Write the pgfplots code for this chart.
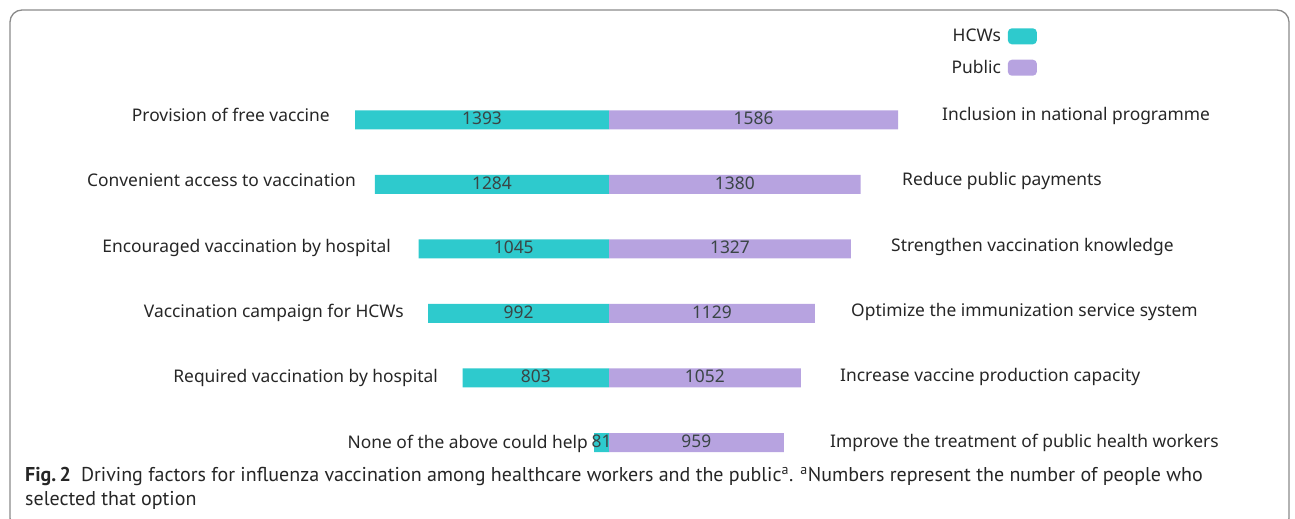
\documentclass[border=0pt]{standalone}
\usepackage{pgfplots}
\pgfplotsset{compat=1.18}
\usepackage{pgfplotstable}
\usepackage{fontspec}
\setmainfont{Noto Sans}
\newfontfamily\capfont{PT Sans}
\definecolor{hcw}{HTML}{2ECACD}
\definecolor{pub}{HTML}{B7A3E0}
\definecolor{txt}{HTML}{262626}
\definecolor{num}{HTML}{3A4545}
\definecolor{frame}{HTML}{8A8A8A}

% h = HCWs, p = public
\pgfplotstableread{
h p
1393 1586
1284 1380
1045 1327
992 1129
803 1052
81 959
}\counts

\newcommand{\chartfont}{\fontsize{17.4}{21}\selectfont}

\begin{document}
\begin{tikzpicture}
\useasboundingbox (0,0) rectangle (1295pt,519pt);
\begin{scope}[x=1pt,y=-1pt,yshift=519pt]
  \draw[frame, line width=1.3pt, rounded corners=12pt] (10,10) rectangle (1289,530);
\end{scope}

\begin{axis}[
    anchor=origin, at={(609pt,399pt)},
    x=0.1823pt, y=64.5pt,
    xmin=-3340, xmax=3763,
    ymin=-6.2, ymax=1.86,
    hide axis, clip=false,
    xbar, bar width=19pt, bar shift=0pt,
    /pgf/number format/.cd, 1000 sep={}, assume math mode=true, /pgfplots/.cd,
    point meta=explicit,
    nodes near coords,
    nodes near coords style={font=\chartfont, text=num, anchor=center, inner sep=0pt, yshift=1.5pt},
    legend plot pos=right,
    legend image code/.code={\fill[#1, rounded corners=4pt] (0pt,-8pt) rectangle (29pt,8pt);},
    legend style={draw=none, fill=none, font=\chartfont, text=txt,
        at={(0.8008,0.948)}, anchor=north east, row sep=13pt,
        inner sep=0pt, nodes={inner sep=2pt},
        /tikz/every odd column/.append style={column sep=5pt}},
    legend cell align=right,
  ]
  \addplot[fill=hcw, draw=none,
      visualization depends on={\thisrow{h}*0.09115 \as \half},
      every node near coord/.append style={xshift=\half pt}]
    table[x expr=-\thisrow{h}, y expr=-\coordindex, meta=h] {\counts};
  \addlegendentry{HCWs}
  \addplot[fill=pub, draw=none,
      visualization depends on={\thisrow{p}*0.09115 \as \half},
      every node near coord/.append style={xshift=-\half pt}]
    table[x=p, y expr=-\coordindex, meta=p] {\counts};
  \addlegendentry{Public}
\end{axis}

\begin{scope}[x=1pt,y=-1pt,yshift=519pt, every node/.style={font=\chartfont, text=txt, inner sep=0pt}]
  \node[anchor=base east] at (330,121.7) {Provision of free vaccine};
  \node[anchor=base east] at (356,187.0) {Convenient access to vaccination};
  \node[anchor=base east] at (391,252.3) {Encouraged vaccination by hospital};
  \node[anchor=base east] at (404,317.6) {Vaccination campaign for HCWs};
  \node[anchor=base east] at (438,382.9) {Required vaccination by hospital};
  \node[anchor=base east] at (588,448.2) {None of the above could help};
  \node[anchor=base west] at (942,120.7) {Inclusion in national programme};
  \node[anchor=base west] at (902,186.0) {Reduce public payments};
  \node[anchor=base west] at (891,251.3) {Strengthen vaccination knowledge};
  \node[anchor=base west] at (851,316.6) {Optimize the immunization service system};
  \node[anchor=base west] at (840,381.9) {Increase vaccine production capacity};
  \node[anchor=base west] at (830,447.2) {Improve the treatment of public health workers};
  \node[anchor=base west, font=\capfont\fontsize{20}{24}\selectfont, align=left, text=txt]
    at (25,506) {\textbf{Fig.\,2}\enspace Driving factors for influenza vaccination among healthcare workers and the public\textsuperscript{a}. \textsuperscript{a}Numbers represent the number of people who\\selected that option};
\end{scope}
\end{tikzpicture}
\end{document}
